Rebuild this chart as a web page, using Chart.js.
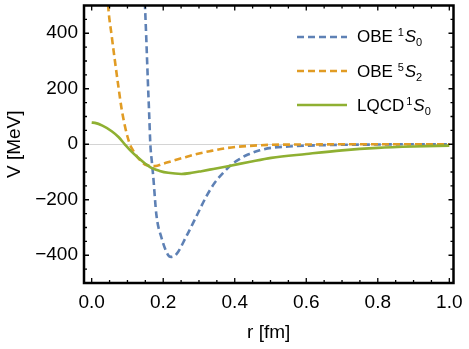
<!DOCTYPE html>
<html>
<head>
<meta charset="utf-8">
<script src="https://cdn.jsdelivr.net/npm/chart.js@4"></script>
<style>
  html, body { margin: 0; padding: 0; background: #fff; }
  #wrap { position: relative; width: 469px; height: 349px; }
  #legend { position: absolute; left: 0; top: 0; font-family: "Liberation Sans", Arial, sans-serif; font-size: 17px; color: #000; }
  .row { position: absolute; left: 297px; height: 24px; display: flex; align-items: center; white-space: nowrap; }
  .row svg { margin-right: 10px; }
  .row .txt { line-height: 1; }
  .sup { font-size: 11px; position: relative; top: -6px; margin: 0 1px 0 0; }
  .sub { font-size: 11px; position: relative; top: 4px; }
</style>
</head>
<body>
<div id="wrap">
  <canvas id="chart" width="469" height="349"></canvas>
  <div id="legend">
    <div class="row" style="top:24.7px">
      <svg width="50" height="4"><line x1="0" y1="2" x2="50" y2="2" stroke="#5E81B5" stroke-width="2.6" stroke-dasharray="7 4"/></svg>
      <span class="txt">OBE <span class="sup">1</span><i>S</i><span class="sub">0</span></span>
    </div>
    <div class="row" style="top:59px">
      <svg width="50" height="4"><line x1="0" y1="2" x2="50" y2="2" stroke="#E19C24" stroke-width="2.6" stroke-dasharray="7 4"/></svg>
      <span class="txt">OBE <span class="sup">5</span><i>S</i><span class="sub">2</span></span>
    </div>
    <div class="row" style="top:93px">
      <svg width="50" height="4"><line x1="0" y1="2" x2="50" y2="2" stroke="#8FB032" stroke-width="2.6"/></svg>
      <span class="txt">LQCD<span class="sup" style="margin-left:2px">1</span><i>S</i><span class="sub">0</span></span>
    </div>
  </div>
</div>
<script>
// --- DONNEES ---
const obe1S0R = [0.12, 0.13, 0.14, 0.149, 0.153, 0.157, 0.161, 0.164, 0.168, 0.172, 0.181, 0.195, 0.214, 0.222, 0.237, 0.265, 0.293, 0.321, 0.344, 0.37, 0.391, 0.415, 0.437, 0.47, 0.502, 0.55, 0.6, 0.7, 0.8, 0.9, 1.0];
const obe1S0V = [1700, 1150, 780, 500, 370, 230, 100, 0, -60, -115, -255, -336, -400, -406, -396, -331, -259, -187, -139, -100, -73, -52, -37, -22, -13, -8, -5, -2, -1, 0, 0];

const obe5S2R = [0.03, 0.038, 0.046, 0.056, 0.065, 0.075, 0.084, 0.093, 0.1, 0.107, 0.116, 0.126, 0.137, 0.149, 0.163, 0.177, 0.2, 0.223, 0.255, 0.288, 0.33, 0.381, 0.44, 0.502, 0.6, 0.7, 0.8, 0.9, 1.0];
const obe5S2V = [900, 690, 500, 390, 300, 205, 125, 65, 28, -1, -23, -43, -60, -73, -78, -79, -70, -61, -49, -37, -25, -13, -6, -2, -1, 0, 0, 0, 0];

const lqcdR = [0, 0.009, 0.03, 0.056, 0.075, 0.093, 0.11, 0.13, 0.15, 0.167, 0.19, 0.214, 0.251, 0.28, 0.307, 0.34, 0.381, 0.44, 0.502, 0.6, 0.7, 0.8, 0.9, 1.0];
const lqcdV = [78, 77, 67, 47, 26, -1, -25, -49, -70, -85, -96, -103, -107, -103, -97, -89, -79, -64, -49, -35, -22, -13, -8, -5];

const xTicks = [0, 0.2, 0.4, 0.6, 0.8, 1.0];
const yTicks = [-400, -200, 0, 200, 400];

const toXY = (r, v) => r.map((x, i) => ({ x: x, y: v[i] }));

const FONT = { family: '"Liberation Sans", Arial, sans-serif', size: 19 };

// cadre + graduations vers l'intérieur (style Mathematica)
const frameTicks = {
    id: 'frameTicks',
    afterDraw(chart) {
        const { ctx, chartArea: a, scales: { x, y } } = chart;
        ctx.save();
        ctx.strokeStyle = '#000';
        ctx.lineWidth = 1.3;
        ctx.beginPath();
        for (let i = 0; i <= 20; i++) {
            const v = i * 0.05;
            const px = x.getPixelForValue(v);
            const len = i % 4 === 0 ? 5 : 3;
            ctx.moveTo(px, a.bottom); ctx.lineTo(px, a.bottom - len);
            ctx.moveTo(px, a.top); ctx.lineTo(px, a.top + len);
        }
        for (let i = -9; i <= 9; i++) {
            const v = i * 50;
            const py = y.getPixelForValue(v);
            const len = i % 4 === 0 ? 5 : 3;
            ctx.moveTo(a.left, py); ctx.lineTo(a.left + len, py);
            ctx.moveTo(a.right, py); ctx.lineTo(a.right - len, py);
        }
        ctx.stroke();
        ctx.lineWidth = 2.5;
        ctx.strokeRect(a.left, a.top, a.right - a.left, a.bottom - a.top);
        ctx.restore();
    }
};

new Chart(document.getElementById('chart'), {
    type: 'scatter',
    data: {
        datasets: [
            {
                label: 'OBE 1S0',
                data: toXY(obe1S0R, obe1S0V),
                borderColor: '#5E81B5',
                borderDash: [7, 4],
                order: 2
            },
            {
                label: 'OBE 5S2',
                data: toXY(obe5S2R, obe5S2V),
                borderColor: '#E19C24',
                borderDash: [7, 4],
                order: 1
            },
            {
                label: 'LQCD 1S0',
                data: toXY(lqcdR, lqcdV),
                borderColor: '#8FB032',
                order: 0
            }
        ].map(d => Object.assign(d, {
            showLine: true,
            pointRadius: 0,
            borderWidth: 2.6,
            cubicInterpolationMode: 'monotone',
            clip: 0
        }))
    },
    options: {
        responsive: false,
        animation: false,
        events: [],
        layout: { padding: { left: 0, right: 15.5, top: 5.5, bottom: 0 } },
        plugins: { legend: { display: false }, tooltip: { enabled: false } },
        scales: {
            x: {
                type: 'linear',
                min: -0.0215,
                max: 1.0117,
                afterBuildTicks: s => { s.ticks = xTicks.map(v => ({ value: v })); },
                afterFit: s => { s.height = 66; s.paddingLeft = 0; s.paddingRight = 0; },
                grid: { display: false, drawTicks: false },
                border: { display: false },
                ticks: { padding: 8, color: '#000', font: FONT, maxRotation: 0, autoSkip: false, callback: v => v.toFixed(1) },
                title: { display: true, text: 'r [fm]', color: '#000', font: FONT, padding: { top: 0, bottom: 4.6 } }
            },
            y: {
                type: 'linear',
                min: -500,
                max: 500,
                afterBuildTicks: s => { s.ticks = yTicks.map(v => ({ value: v })); },
                afterFit: s => { s.width = 84; s.paddingTop = 0; s.paddingBottom = 0; },
                grid: { drawTicks: false, lineWidth: 1, color: c => (c.tick && c.tick.value === 0) ? '#d4d4d4' : 'rgba(0,0,0,0)' },
                border: { display: false },
                ticks: { padding: 6, color: '#000', font: FONT, callback: v => v < 0 ? '\u2212' + Math.abs(v) : String(v) },
                title: { display: true, text: 'V [MeV]', color: '#000', font: FONT, padding: { top: 3.6, bottom: 0 } }
            }
        }
    },
    plugins: [frameTicks]
});
</script>
</body>
</html>
